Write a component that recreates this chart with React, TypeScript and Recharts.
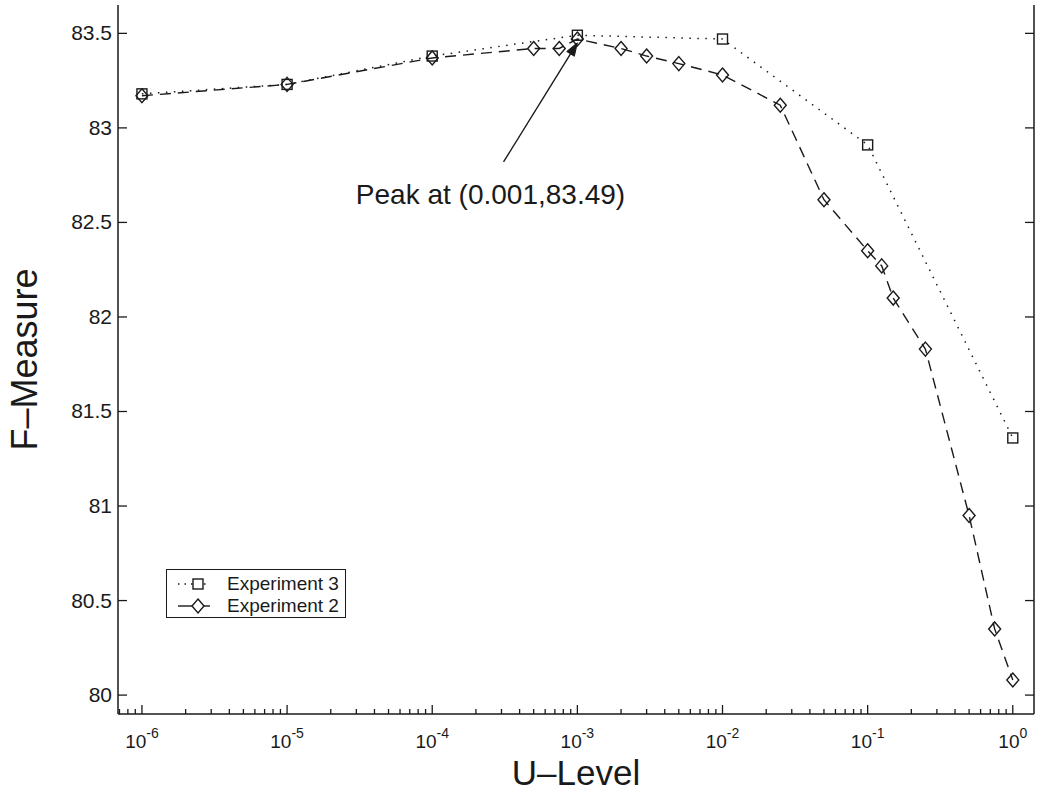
import React from 'react';
import { LineChart, Line, XAxis, YAxis, ReferenceLine, ReferenceDot, Legend } from 'recharts';

// ---- data ----
const exp3X = [1e-6, 1e-5, 1e-4, 1e-3, 1e-2, 1e-1, 1];
const exp3Y = [83.18, 83.23, 83.38, 83.49, 83.47, 82.91, 81.36];

const exp2X = [1e-6, 1e-5, 1e-4, 5e-4, 7.5e-4, 1e-3, 2e-3, 3e-3, 5e-3, 1e-2, 0.025, 0.05, 0.1, 0.125, 0.15, 0.25, 0.5, 0.75, 1];
const exp2Y = [83.17, 83.23, 83.37, 83.42, 83.42, 83.47, 83.42, 83.38, 83.34, 83.28, 83.12, 82.62, 82.35, 82.27, 82.1, 81.83, 80.95, 80.35, 80.08];

const yTicks = [80, 80.5, 81, 81.5, 82, 82.5, 83, 83.5];
const decadeExps = [-7, -6, -5, -4, -3, -2, -1, 0];
const minorMultipliers = [1, 2, 3, 4, 5, 6, 7, 8, 9];
const xDomain: [number, number] = [6.84e-7, 1.4];
const yDomain: [number, number] = [79.9, 83.65];

const seriesNames = ['Experiment 3', 'Experiment 2'];
const peakText = 'Peak at (0.001,83.49)';
const peakTextPos = { x: 2.52e-4, y: 82.65 };
const arrowFrom = { x: 3.1e-4, y: 82.82 };
const arrowTo = { x: 1e-3, y: 83.45 };

const exp3Data = exp3X.map((x, i) => ({ x, y: exp3Y[i] }));
const exp2Data = exp2X.map((x, i) => ({ x, y: exp2Y[i] }));

const xTicks: number[] = [];
decadeExps.forEach((e) => {
  minorMultipliers.forEach((m) => {
    const v = m * Math.pow(10, e);
    if (v >= xDomain[0] && v <= xDomain[1]) xTicks.push(v);
  });
});

const FONT = '"Liberation Sans", Arial, Helvetica, sans-serif';
const INK = '#1a1a1a';

const isDecade = (v: number) => {
  const l = Math.log10(v);
  return Math.abs(l - Math.round(l)) < 1e-6;
};

const BottomTick = (props: any) => {
  const { x, y, payload } = props;
  const v = payload.value;
  const major = isDecade(v);
  const e = Math.round(Math.log10(v));
  return (
    <g>
      <line x1={x} y1={y} x2={x} y2={y - (major ? 9 : 5)} stroke={INK} strokeWidth={1.3} />
      {major && (
        <text x={x} y={y + 34} textAnchor="middle" fontSize={19} fontFamily={FONT} fill={INK}>
          10
          <tspan dy={-10} fontSize={14}>{String(e)}</tspan>
        </text>
      )}
    </g>
  );
};

const TopTick = (props: any) => {
  const { x, y, payload } = props;
  const major = isDecade(payload.value);
  return <line x1={x} y1={y} x2={x} y2={y + (major ? 9 : 5)} stroke={INK} strokeWidth={1.3} />;
};

const LeftTick = (props: any) => {
  const { x, y, payload } = props;
  return (
    <g>
      <line x1={x} y1={y} x2={x + 9} y2={y} stroke={INK} strokeWidth={1.3} />
      <text x={x - 6} y={y} dy={7} textAnchor="end" fontSize={21} fontFamily={FONT} fill={INK}>
        {String(payload.value)}
      </text>
    </g>
  );
};

const RightTick = (props: any) => {
  const { x, y } = props;
  return <line x1={x} y1={y} x2={x - 9} y2={y} stroke={INK} strokeWidth={1.3} />;
};

const SquareDot = (p: any) => {
  if (p.cx == null || p.cy == null) return <g key={`s${p.index}`} />;
  return (
    <rect key={`s${p.index}`} x={p.cx - 5} y={p.cy - 5} width={10} height={10} fill="none" stroke={INK} strokeWidth={1.4} />
  );
};

const DiamondDot = (p: any) => {
  if (p.cx == null || p.cy == null) return <g key={`d${p.index}`} />;
  const { cx, cy } = p;
  return (
    <polygon
      key={`d${p.index}`}
      points={`${cx},${cy - 7} ${cx + 6},${cy} ${cx},${cy + 7} ${cx - 6},${cy}`}
      fill="none"
      stroke={INK}
      strokeWidth={1.4}
    />
  );
};

const ArrowShape = (p: any) => {
  const { x1, y1, x2, y2 } = p;
  const ang = Math.atan2(y2 - y1, x2 - x1);
  const L = 13;
  const W = 4.5;
  const bx = x2 - L * Math.cos(ang);
  const by = y2 - L * Math.sin(ang);
  const px = -Math.sin(ang) * W;
  const py = Math.cos(ang) * W;
  return (
    <g>
      <line x1={x1} y1={y1} x2={bx} y2={by} stroke={INK} strokeWidth={1.4} />
      <polygon points={`${x2},${y2} ${bx + px},${by + py} ${bx - px},${by - py}`} fill={INK} stroke={INK} strokeWidth={1} />
    </g>
  );
};

const LegendBox = () => (
  <div
    style={{
      width: 180,
      height: 49,
      border: `1.5px solid ${INK}`,
      background: '#fff',
      boxSizing: 'border-box',
      fontFamily: FONT,
      fontSize: 19,
      color: INK,
      position: 'relative',
    }}
  >
    <svg width={50} height={49} style={{ position: 'absolute', left: 0, top: 0 }}>
      <line x1={11} y1={14} x2={42} y2={14} stroke={INK} strokeWidth={1.5} strokeDasharray="1.5 5" />
      <rect x={26} y={9} width={10} height={10} fill="#fff" stroke={INK} strokeWidth={1.4} />
      <line x1={11} y1={36} x2={43} y2={36} stroke={INK} strokeWidth={1.4} />
      <polygon points="31,29 37,36 31,43 25,36" fill="#fff" stroke={INK} strokeWidth={1.4} />
    </svg>
    <div style={{ position: 'absolute', left: 60, top: 3, lineHeight: '22px', whiteSpace: 'nowrap' }}>{seriesNames[0]}</div>
    <div style={{ position: 'absolute', left: 60, top: 25, lineHeight: '22px', whiteSpace: 'nowrap' }}>{seriesNames[1]}</div>
  </div>
);

export default function App() {
  return (
    <div style={{ position: 'absolute', left: 0, top: 0, background: '#fff' }}>
      <LineChart width={1038} height={791} data={exp2Data} margin={{ top: 5, right: 0, bottom: 0, left: 0 }}>
        <XAxis
          dataKey="x"
          type="number"
          scale="log"
          domain={xDomain}
          allowDataOverflow
          ticks={xTicks}
          interval={0}
          height={77}
          tickSize={0}
          tickMargin={0}
          tickLine={false}
          axisLine={{ stroke: INK, strokeWidth: 1.5 }}
          tick={BottomTick}
          label={{ value: 'U–Level', position: 'insideBottom', offset: 6, fontSize: 35, fontFamily: FONT, fill: INK }}
        />
        <XAxis
          xAxisId="top"
          orientation="top"
          dataKey="x"
          type="number"
          scale="log"
          domain={xDomain}
          allowDataOverflow
          ticks={xTicks}
          interval={0}
          height={0}
          tickSize={0}
          tickMargin={0}
          tickLine={false}
          axisLine={{ stroke: INK, strokeWidth: 1.5 }}
          tick={TopTick}
        />
        <YAxis
          type="number"
          domain={yDomain}
          allowDataOverflow
          ticks={yTicks}
          interval={0}
          width={118}
          tickSize={0}
          tickMargin={0}
          tickLine={false}
          axisLine={{ stroke: INK, strokeWidth: 1.5 }}
          tick={LeftTick}
          label={{
            value: 'F–Measure',
            angle: -90,
            position: 'insideLeft',
            offset: 24,
            fontSize: 36,
            fontFamily: FONT,
            fill: INK,
            style: { textAnchor: 'middle' },
          }}
        />
        <YAxis
          yAxisId="right"
          orientation="right"
          type="number"
          domain={yDomain}
          allowDataOverflow
          ticks={yTicks}
          interval={0}
          width={4}
          tickSize={0}
          tickMargin={0}
          tickLine={false}
          axisLine={{ stroke: INK, strokeWidth: 1.5 }}
          tick={RightTick}
        />
        <Line
          data={exp3Data}
          dataKey="y"
          name={seriesNames[0]}
          stroke={INK}
          strokeWidth={1.5}
          strokeDasharray="1.5 6.5"
          dot={SquareDot}
          activeDot={false}
          isAnimationActive={false}
        />
        <Line
          data={exp2Data}
          dataKey="y"
          name={seriesNames[1]}
          stroke={INK}
          strokeWidth={1.4}
          strokeDasharray="11 7"
          dot={DiamondDot}
          activeDot={false}
          isAnimationActive={false}
        />
        <ReferenceLine segment={[arrowFrom, arrowTo]} ifOverflow="visible" shape={ArrowShape} />
        <ReferenceDot
          x={peakTextPos.x}
          y={peakTextPos.y}
          r={1}
          fill="none"
          stroke="none"
          ifOverflow="visible"
          label={{ value: peakText, position: 'center', fontSize: 28, fontFamily: FONT, fill: INK }}
        />
        <Legend
          layout="horizontal"
          verticalAlign="middle"
          align="center"
          content={LegendBox}
          wrapperStyle={{ position: 'absolute', left: 166, top: 569, width: 'auto', height: 'auto', bottom: 'auto', right: 'auto' }}
        />
      </LineChart>
    </div>
  );
}
